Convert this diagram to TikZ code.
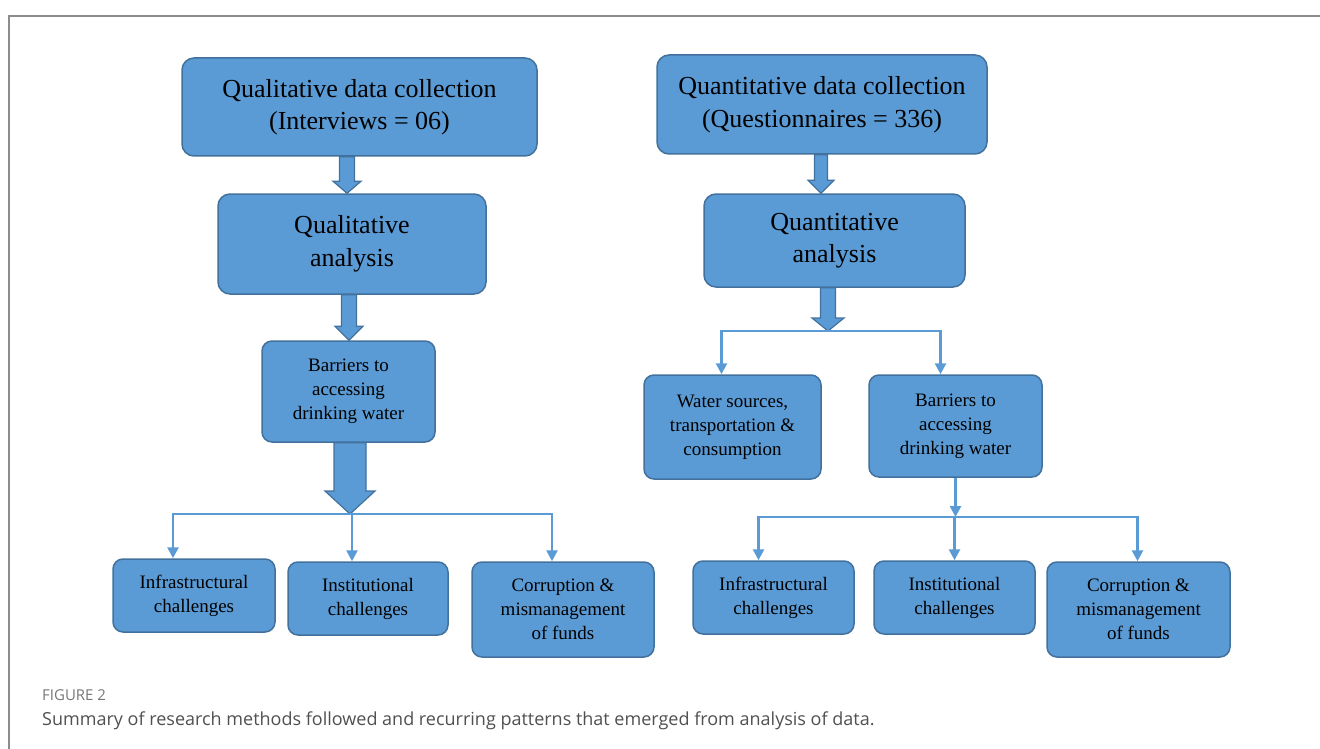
\documentclass[tikz,border=0pt]{standalone}
\usepackage{fontspec}
\setmainfont{Liberation Serif}
\newfontfamily\capfont{Open Sans}
\usetikzlibrary{arrows.meta, calc}

\definecolor{boxblue}{HTML}{5B9BD5}
\definecolor{boxedge}{HTML}{41719C}
\definecolor{framegray}{HTML}{8C8C8C}
\definecolor{capgray}{HTML}{777777}
\definecolor{captext}{HTML}{505050}

% block arrow: start, tip, half shaft, half head, head length
\newcommand{\fatarrow}[5]{%
  \filldraw[fat] let \p1=(#1), \p2=(#2) in
    (\x1-#3,\y1) -- (\x1-#3,\y2+#5) -- (\x1-#4,\y2+#5) -- (\x1,\y2)
    -- (\x1+#4,\y2+#5) -- (\x1+#3,\y2+#5) -- (\x1+#3,\y1) -- cycle;}

\begin{document}
\begin{tikzpicture}[x=1pt, y=-1pt,
    box/.style={draw=boxedge, fill=boxblue, line width=1.5pt, rounded corners=12pt,
                inner sep=0pt, align=center, text=black},
    bigtext/.style={font=\fontsize{26}{32.5}\selectfont},
    smalltext/.style={font=\fontsize{19}{24}\selectfont, rounded corners=10pt},
    fat/.style={draw=boxedge, fill=boxblue, line width=1.2pt, line join=miter},
    link/.style={draw=boxblue, line width=2.6pt,
                 -{Triangle[width=11pt,length=11pt]}}]

    \useasboundingbox (0,0) rectangle (1320,749);
    \draw[framegray, line width=1.5pt] (1320,16) -- (9,16) -- (9,749);

    % qualitative side
    \node[box, bigtext, minimum width=355, minimum height=98] (a1) at (359.5,107)
        {Qualitative data collection\\(Interviews = 06)};
    \node[box, bigtext, minimum width=268, minimum height=100] (a2) at (352,244)
        {Qualitative\\analysis};
    \node[box, smalltext, minimum width=173, minimum height=101] (a3) at (348.5,391.5)
        {Barriers to\\accessing\\drinking water};
    \node[box, smalltext, minimum width=162, minimum height=73] (b1) at (194,595.5)
        {Infrastructural\\challenges};
    \node[box, smalltext, minimum width=160, minimum height=73] (b2) at (368,598.5)
        {Institutional\\challenges};
    \node[box, smalltext, minimum width=182, minimum height=95] (b3) at (563,609.5)
        {Corruption \&\\mismanagement\\of funds};

    % quantitative side
    \node[box, bigtext, minimum width=330, minimum height=99] (c1) at (822,104.5)
        {Quantitative data collection\\(Questionnaires = 336)};
    \node[box, bigtext, minimum width=261, minimum height=93] (c2) at (834.5,240.5)
        {Quantitative\\analysis};
    \node[box, smalltext, minimum width=177, minimum height=104] (d1) at (732.5,427)
        {Water sources,\\transportation \&\\consumption};
    \node[box, smalltext, minimum width=173, minimum height=102] (d2) at (955.5,426)
        {Barriers to\\accessing\\drinking water};
    \node[box, smalltext, minimum width=161, minimum height=73] (e1) at (773.5,597.5)
        {Infrastructural\\challenges};
    \node[box, smalltext, minimum width=161, minimum height=73] (e2) at (954.5,597.5)
        {Institutional\\challenges};
    \node[box, smalltext, minimum width=183, minimum height=95] (e3) at (1138.5,609.5)
        {Corruption \&\\mismanagement\\of funds};

    \coordinate (lsplit) at (350,514);
    \coordinate (rsplit) at (828,331);
    \coordinate (esplit) at (955.5,517);

    % block arrows
    \fatarrow{a1.south -| 347,0}{a2.north}{7.5pt}{14pt}{12pt}
    \fatarrow{a2.south -| 349,0}{a3.north}{7.5pt}{14pt}{14pt}
    \fatarrow{a3.south -| 350,0}{lsplit}{16pt}{25pt}{23pt}
    \fatarrow{c1.south -| 821,0}{c2.north}{6.5pt}{13pt}{13pt}
    \fatarrow{c2.south -| 828,0}{rsplit}{7.5pt}{16pt}{13pt}

    % thin connectors
    \draw[link] (lsplit) -| ([xshift=-21pt]b1.north);
    \draw[link] (lsplit) -| ([xshift=-16pt]b2.north);
    \draw[link] (lsplit) -| ([xshift=-11pt]b3.north);
    \draw[link] (rsplit) -| ([xshift=-11pt]d1.north);
    \draw[link] (rsplit) -| ([xshift=-15pt]d2.north);
    \draw[link] (d2.south) -- (esplit);
    \draw[link] (esplit) -| ([xshift=-15pt]e1.north);
    \draw[link] (esplit) -| (e2.north);
    \draw[link] (esplit) -| ([xshift=-1pt]e3.north);

    % caption
    \node[anchor=base west, inner sep=0pt, font=\capfont\fontsize{15}{17}\selectfont,
        text=capgray] (figlabel) at (42,700.5) {FIGURE 2};
    \node[anchor=base west, inner sep=0pt, font=\capfont\fontsize{18}{21}\selectfont,
        text=captext] (figcap) at (42,725)
        {Summary of research methods followed and recurring patterns that emerged from analysis of data.};
\end{tikzpicture}
\end{document}
